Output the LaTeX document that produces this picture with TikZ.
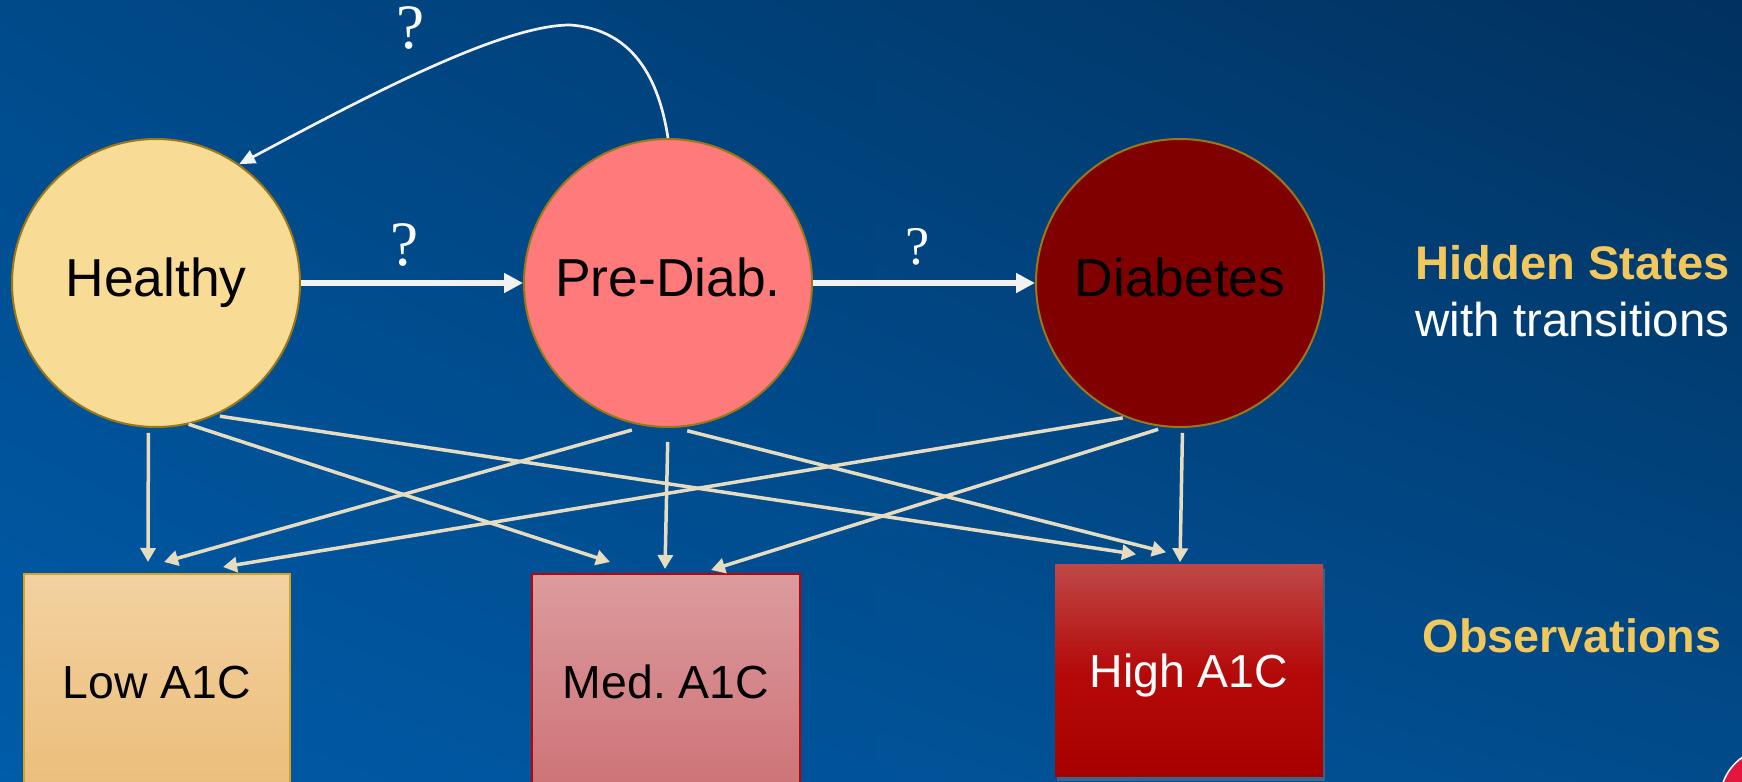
\documentclass[tikz,border=0pt]{standalone}
\usepackage{fontspec}
\setmainfont{Liberation Sans}
\newfontfamily\qfont{Liberation Serif}
\usetikzlibrary{arrows.meta,shadows,shadings}

\definecolor{bgTL}{HTML}{004A8A}
\definecolor{bgTR}{HTML}{01315E}
\definecolor{bgBL}{HTML}{005BA8}
\definecolor{bgBR}{HTML}{014B8B}
\definecolor{healthyfill}{HTML}{F8DC96}
\definecolor{prefill}{HTML}{FF7A7A}
\definecolor{diabfill}{HTML}{800000}
\definecolor{ringgold}{HTML}{9C7814}
\definecolor{lowtop}{HTML}{F3D1A1}
\definecolor{lowbot}{HTML}{EBBE7A}
\definecolor{lowedge}{HTML}{D9A21B}
\definecolor{medtop}{HTML}{DC9B9D}
\definecolor{medbot}{HTML}{CD7377}
\definecolor{mededge}{HTML}{C00000}
\definecolor{hightop}{HTML}{C04848}
\definecolor{highmid}{HTML}{B50A0A}
\definecolor{highbot}{HTML}{A80000}
\definecolor{linkbeige}{HTML}{E6DCC2}
\definecolor{labelgold}{HTML}{F2C75C}
\definecolor{logored}{HTML}{E3173E}

\begin{document}
\begin{tikzpicture}[x=0.1mm,y=0.1mm,
        state/.style={circle,minimum size=28.8mm,inner sep=0pt,draw=ringgold,line width=0.2mm,
            font=\fontsize{15.2}{17}\selectfont,text height=3.8mm,text depth=1mm},
        obsbox/.style={rectangle,inner sep=0pt,font=\fontsize{13.2}{16}\selectfont,
            text height=3.6mm,text depth=0.2mm},
        trans/.style={draw=white!95!black,line width=0.6mm,-{Triangle[length=1.9mm,width=1.9mm]}},
        back/.style={draw=white!95!black,line width=0.27mm,-{Triangle[length=1.6mm,width=1.4mm]}},
        link/.style={draw=linkbeige,line width=0.35mm,-{Triangle[length=1.4mm,width=1.5mm]}},
        qmark/.style={text=white,inner sep=0pt},
        side/.style={anchor=base west,inner sep=0pt}]
        \useasboundingbox (0,0) rectangle (1742,-782);
        \clip (0,0) rectangle (1742,-782);
        \shade[upper left=bgTL,upper right=bgTR,lower left=bgBL,lower right=bgBR] (0,0) rectangle (1742,-782);

        \node[state,fill=healthyfill] (healthy) at (156,-283) {Healthy};
        \node[state,fill=prefill] (prediab) at (668,-283) {Pre-Diab.};
        \node[state,fill=diabfill] (diabetes) at (1180,-283) {Diabetes};

        \node[obsbox,minimum width=26.6mm,minimum height=21.4mm,top color=lowtop,bottom color=lowbot,
            draw=lowedge,line width=0.2mm] (low) at (157,-681) {Low A1C};
        \node[obsbox,minimum width=26.8mm,minimum height=21.4mm,top color=medtop,bottom color=medbot,
            draw=mededge,line width=0.2mm] (med) at (666,-681) {Med.\ A1C};
        \node[obsbox,minimum width=26.8mm,minimum height=21.2mm,top color=hightop,bottom color=highbot,
            middle color=highmid,text=white,
            drop shadow={shadow xshift=0.2mm,shadow yshift=-0.5mm,opacity=0.45}] (high) at (1189,-670) {High A1C};

        \node[side,text=labelgold,font=\bfseries\fontsize{13.4}{16}\selectfont] (hidden) at (1415,-280) {Hidden States};
        \node[side,text=white,font=\fontsize{13.5}{16}\selectfont] (withtr) at (1415,-337) {with transitions};
        \node[side,text=labelgold,font=\bfseries\fontsize{13.3}{16}\selectfont] (observ) at (1422,-652) {Observations};

        \draw[trans] (healthy) -- (prediab);
        \draw[trans] (prediab) -- (diabetes);
        \coordinate (apex) at (570,-25);
        \draw[back] (prediab.north) .. controls (662,-100) and (645,-30) .. (apex)
            .. controls (500,-25) and (360,-100) .. (healthy.55);

        \node[qmark,font=\qfont\fontsize{18}{20}\selectfont] (q1) at (411,-28) {?};
        \node[qmark,font=\qfont\fontsize{18}{20}\selectfont] (q2) at (405,-245) {?};
        \node[qmark,font=\qfont\fontsize{15.5}{18}\selectfont] (q3) at (918,-247) {?};

        \draw[link,shorten <=0.5mm] (healthy.-93) -- ([xshift=-0.9mm,yshift=1.1mm]low.north);
        \draw[link] (healthy.-77) -- ([xshift=-5.6mm,yshift=1.1mm]med.north);
        \draw[link,shorten <=0.5mm] (healthy.-66) -- ([xshift=-5.3mm,yshift=0.9mm]high.north);
        \draw[link,shorten <=1.4mm] (prediab.-99) -- ([xshift=0.7mm,yshift=1.1mm]low.north);
        \draw[link,shorten <=1.4mm] (prediab.-90) -- ([xshift=-0.1mm,yshift=0.4mm]med.north);
        \draw[link,shorten <=1.2mm] (prediab.-87) -- ([xshift=-2.3mm,yshift=1.1mm]high.north);
        \draw[link,shorten <=0.3mm] (diabetes.-112) -- ([xshift=6.6mm,yshift=0.6mm]low.north);
        \draw[link,shorten <=0.7mm] (diabetes.-96) -- ([xshift=4.5mm,yshift=0.3mm]med.north);
        \draw[link,shorten <=0.5mm] (diabetes.-89) -- ([xshift=-0.9mm,yshift=0.1mm]high.north);

        % \node at (1700,-740) {logo};
        \draw[fill=logored,draw=white,line width=0.15mm] (1772,-800) circle[radius=5.2mm];
    \end{tikzpicture}
\end{document}
